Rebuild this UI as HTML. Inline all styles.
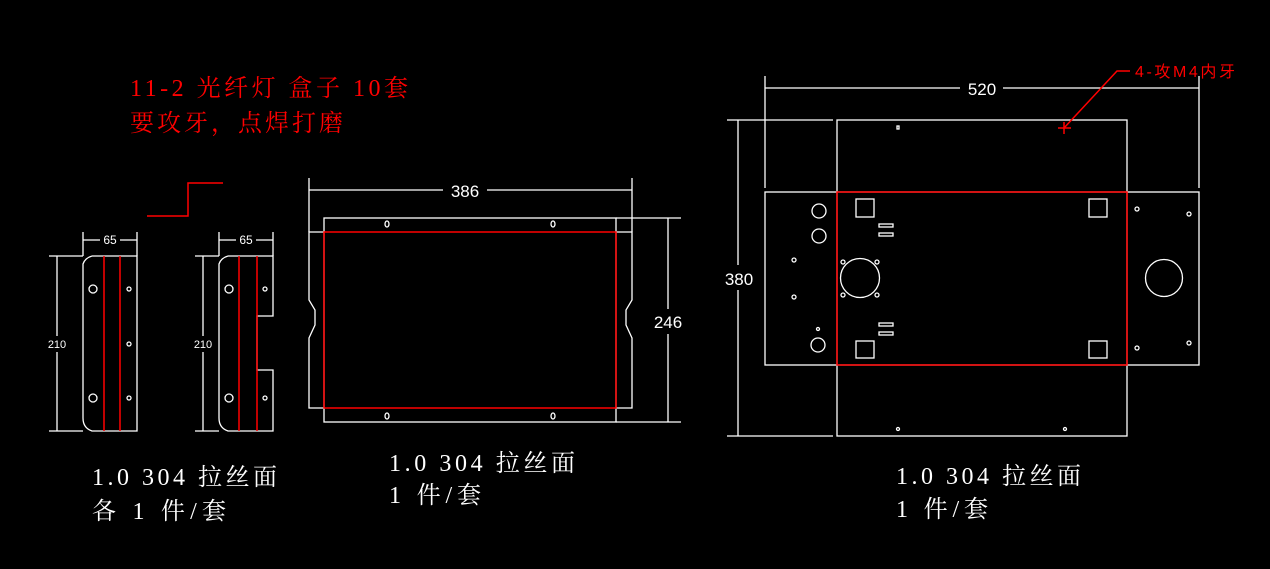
<!DOCTYPE html>
<html><head><meta charset="utf-8"><style>
html,body{margin:0;padding:0;background:#000;}
svg{display:block}
.w{stroke:#fff;stroke-width:1.3;fill:none}
.r{stroke:#f00;stroke-width:1.5;fill:none}
.t{font-family:"Liberation Serif","Noto Serif CJK SC",serif;font-size:24px}
.d{font-family:"Liberation Sans","Noto Sans CJK SC",sans-serif;fill:#fff}
</style></head><body>
<svg width="1270" height="569" viewBox="0 0 1270 569" xmlns="http://www.w3.org/2000/svg">
<rect width="1270" height="569" fill="#000"/>
<text class="t" x="130" y="96" fill="#f00" textLength="278" lengthAdjust="spacing">11-2 光纤灯 盒子 10套</text>
<text class="t" x="130" y="131" fill="#f00" textLength="213" lengthAdjust="spacing">要攻牙，点焊打磨</text>
<polyline class="r" points="147,216 188,216 188,183 223,183"/>

<!-- Part 1 -->
<path class="w" d="M92,256 H137 V431 H92 Q83,428 83,418 V264 Q85,258 92,256"/>
<line class="r" x1="104" y1="256" x2="104" y2="431"/><line class="r" x1="120" y1="256" x2="120" y2="431"/>
<line class="w" x1="49" y1="256" x2="83" y2="256"/><line class="w" x1="49" y1="431" x2="83" y2="431"/>
<line class="w" x1="57" y1="256" x2="57" y2="336"/><line class="w" x1="57" y1="352" x2="57" y2="431"/>
<text class="d" x="57" y="348" font-size="11" text-anchor="middle">210</text>
<line class="w" x1="83" y1="232" x2="83" y2="256"/><line class="w" x1="137" y1="232" x2="137" y2="256"/>
<line class="w" x1="83" y1="240" x2="100" y2="240"/><line class="w" x1="120" y1="240" x2="137" y2="240"/>
<text class="d" x="110" y="244" font-size="12" text-anchor="middle">65</text>
<circle class="w" cx="93" cy="289" r="4"/><circle class="w" cx="93" cy="398" r="4"/>
<circle class="w" cx="129" cy="289" r="2"/><circle class="w" cx="129" cy="344" r="2"/><circle class="w" cx="129" cy="398" r="2"/>

<!-- Part 2 -->
<path class="w" d="M228,256 H273 V316 H257 V370 H273 V431 H228 Q219,428 219,418 V264 Q221,258 228,256"/>
<line class="r" x1="239" y1="256" x2="239" y2="431"/><line class="r" x1="257" y1="256" x2="257" y2="431"/>
<line class="w" x1="195" y1="256" x2="219" y2="256"/><line class="w" x1="195" y1="431" x2="219" y2="431"/>
<line class="w" x1="203" y1="256" x2="203" y2="336"/><line class="w" x1="203" y1="352" x2="203" y2="431"/>
<text class="d" x="203" y="348" font-size="11" text-anchor="middle">210</text>
<line class="w" x1="219" y1="232" x2="219" y2="256"/><line class="w" x1="273" y1="232" x2="273" y2="256"/>
<line class="w" x1="219" y1="240" x2="236" y2="240"/><line class="w" x1="256" y1="240" x2="273" y2="240"/>
<text class="d" x="246" y="244" font-size="12" text-anchor="middle">65</text>
<circle class="w" cx="229" cy="289" r="4"/><circle class="w" cx="229" cy="398" r="4"/>
<circle class="w" cx="265" cy="289" r="2"/><circle class="w" cx="265" cy="398" r="2"/>

<!-- Middle part -->
<rect class="w" x="324" y="218" width="292" height="204"/>
<path class="w" d="M324,232 H309 V300 L315,310 V325 L309,338 V408 H324 M616,232 H632 V300 L626,310 V325 L632,338 V408 H616"/>
<rect class="r" x="324" y="232" width="292" height="176"/>
<line class="w" x1="309" y1="178" x2="309" y2="232"/><line class="w" x1="632" y1="178" x2="632" y2="232"/>
<line class="w" x1="309" y1="190" x2="443" y2="190"/><line class="w" x1="487" y1="190" x2="632" y2="190"/>
<text class="d" x="465" y="197" font-size="17" text-anchor="middle">386</text>
<line class="w" x1="616" y1="218" x2="681" y2="218"/><line class="w" x1="616" y1="422" x2="681" y2="422"/>
<line class="w" x1="668" y1="218" x2="668" y2="309"/><line class="w" x1="668" y1="334" x2="668" y2="422"/>
<text class="d" x="668" y="328" font-size="17" text-anchor="middle">246</text>
<ellipse class="w" cx="387" cy="224" rx="2" ry="3"/><ellipse class="w" cx="553" cy="224" rx="2" ry="3"/>
<ellipse class="w" cx="387" cy="416" rx="2" ry="3"/><ellipse class="w" cx="553" cy="416" rx="2" ry="3"/>

<!-- Right part -->
<rect class="w" x="837" y="120" width="290" height="316"/>
<rect class="w" x="765" y="192" width="434" height="173"/>
<rect class="r" x="837" y="192" width="290" height="173"/>
<line class="w" x1="727" y1="120" x2="833" y2="120"/><line class="w" x1="727" y1="436" x2="833" y2="436"/>
<line class="w" x1="738" y1="120" x2="738" y2="265"/><line class="w" x1="738" y1="290" x2="738" y2="436"/>
<text class="d" x="739" y="285" font-size="17" text-anchor="middle">380</text>
<line class="w" x1="765" y1="76" x2="765" y2="188"/><line class="w" x1="1199" y1="76" x2="1199" y2="188"/>
<line class="w" x1="765" y1="88" x2="960" y2="88"/><line class="w" x1="1003" y1="88" x2="1199" y2="88"/>
<text class="d" x="982" y="95" font-size="17" text-anchor="middle">520</text>
<polyline class="r" stroke-width="1" points="1064,128 1117,71 1130,71"/>
<text x="1135" y="77" fill="#f00" font-size="16" font-family="Liberation Sans,Noto Sans CJK SC,sans-serif" textLength="100" lengthAdjust="spacing">4-攻M4内牙</text>
<line class="r" x1="1058" y1="128" x2="1071" y2="128"/><line class="r" x1="1064" y1="122" x2="1064" y2="134"/>
<rect class="w" x="856" y="199" width="18" height="18"/><rect class="w" x="1089" y="199" width="18" height="18"/>
<rect class="w" x="856" y="341" width="18" height="17"/><rect class="w" x="1089" y="341" width="18" height="17"/>
<rect class="w" x="879" y="224" width="14" height="3"/><rect class="w" x="879" y="233" width="14" height="3"/>
<rect class="w" x="879" y="323" width="14" height="3"/><rect class="w" x="879" y="332" width="14" height="3"/>
<circle class="w" cx="860" cy="278" r="19.5"/>
<circle class="w" cx="843" cy="262" r="2"/><circle class="w" cx="877" cy="262" r="2"/><circle class="w" cx="843" cy="295" r="2"/><circle class="w" cx="877" cy="295" r="2"/>
<circle class="w" cx="1164" cy="278" r="18.5"/>
<circle class="w" cx="819" cy="211" r="7"/><circle class="w" cx="819" cy="236" r="7"/><circle class="w" cx="818" cy="345" r="7"/>
<circle class="w" cx="794" cy="260" r="2"/><circle class="w" cx="794" cy="297" r="2"/><circle class="w" cx="818" cy="329" r="1.5"/>
<circle class="w" cx="1137" cy="209" r="2"/><circle class="w" cx="1189" cy="214" r="2"/><circle class="w" cx="1137" cy="348" r="2"/><circle class="w" cx="1189" cy="343" r="2"/>
<rect class="w" x="897" y="126" width="2" height="3"/>
<circle class="w" cx="898" cy="429" r="1.5"/><circle class="w" cx="1065" cy="429" r="1.5"/>

<!-- Labels -->
<g class="t" fill="#fff">
<text x="92" y="485" textLength="185" lengthAdjust="spacing">1.0 304 拉丝面</text>
<text x="92" y="519" textLength="134" lengthAdjust="spacing">各 1 件/套</text>
<text x="389" y="471" textLength="186" lengthAdjust="spacing">1.0 304 拉丝面</text>
<text x="389" y="503" textLength="92" lengthAdjust="spacing">1 件/套</text>
<text x="896" y="484" textLength="185" lengthAdjust="spacing">1.0 304 拉丝面</text>
<text x="896" y="517" textLength="92" lengthAdjust="spacing">1 件/套</text>
</g>
</svg>
</body></html>
